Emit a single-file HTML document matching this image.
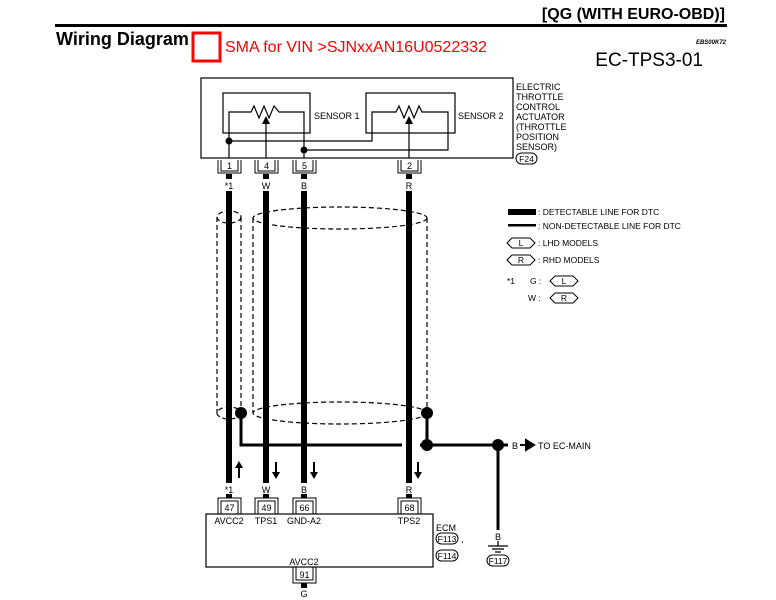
<!DOCTYPE html>
<html><head><meta charset="utf-8"><style>
html,body{margin:0;padding:0;background:#fff;}
svg{display:block;font-family:"Liberation Sans",Arial,sans-serif;}
</style></head><body>
<svg width="776" height="600" viewBox="0 0 776 600" xmlns="http://www.w3.org/2000/svg">
<text x="292" y="-1" font-size="15" font-weight="bold">DTC P1227 TP SENSOR</text>
<text x="725" y="19" font-size="16" font-weight="bold" text-anchor="end">[QG (WITH EURO-OBD)]</text>
<rect x="55" y="24" width="672" height="3" fill="#000"/>
<text x="56" y="45" font-size="18" font-weight="bold">Wiring Diagram</text>
<rect x="193" y="33" width="27" height="28" fill="none" stroke="#f00" stroke-width="3"/>
<text x="225" y="52" font-size="16" fill="#f00">SMA for VIN &gt;SJNxxAN16U0522332</text>
<text x="726" y="44" font-size="6" font-style="italic" font-weight="bold" text-anchor="end">EBS00K72</text>
<text x="703" y="66" font-size="19" text-anchor="end">EC-TPS3-01</text>

<g fill="none" stroke="#000" stroke-width="1.2">
<rect x="201" y="78" width="312" height="80"/>
<rect x="223" y="93" width="87" height="40"/>
<rect x="366" y="93" width="89" height="40"/>
<polyline points="229,158 229,112 251,112 254,106 259,118 264,106 269,118 274,106 279,112 304,112 304,158"/>
<polyline points="229,141 372,141 372,112 396,112 399,106 404,118 409,106 414,118 419,106 422,112 448,112 448,150 304,150"/>
<line x1="266" y1="158" x2="266" y2="122"/>
<line x1="409" y1="158" x2="409" y2="122"/>
</g>
<polygon points="266,116 262,124 270,124" fill="#000"/>
<polygon points="409,116 405,124 413,124" fill="#000"/>
<circle cx="229" cy="141" r="3.5" fill="#000"/>
<circle cx="304" cy="150" r="3.5" fill="#000"/>
<g font-size="9">
<text x="314" y="119">SENSOR 1</text>
<text x="458" y="119">SENSOR 2</text>
<text x="516" y="90">ELECTRIC</text>
<text x="516" y="100">THROTTLE</text>
<text x="516" y="110">CONTROL</text>
<text x="516" y="120">ACTUATOR</text>
<text x="516" y="130">(THROTTLE</text>
<text x="516" y="140">POSITION</text>
<text x="516" y="150">SENSOR)</text>
</g>
<rect x="516" y="153" width="21" height="11" rx="5.5" fill="none" stroke="#000"/>
<text x="526.5" y="162" font-size="8.5" text-anchor="middle">F24</text>

<g fill="none" stroke="#000" stroke-width="1">
<path d="M218,160 V173 H241 V160 M221,160 V171 H238 V160"/>
<path d="M255,160 V173 H278 V160 M258,160 V171 H275 V160"/>
<path d="M293,160 V173 H316 V160 M296,160 V171 H313 V160"/>
<path d="M398,160 V173 H421 V160 M401,160 V171 H418 V160"/>
</g>
<g font-size="9" text-anchor="middle">
<text x="229.5" y="169">1</text><text x="266.5" y="169">4</text><text x="304.5" y="169">5</text><text x="409.5" y="169">2</text>
<text x="229" y="189">*1</text><text x="266" y="189">W</text><text x="304" y="189">B</text><text x="409" y="189">R</text>
</g>

<g fill="#000">
<rect x="226" y="174" width="6" height="5"/><rect x="263" y="174" width="6" height="5"/><rect x="301" y="174" width="6" height="5"/><rect x="406" y="174" width="6" height="5"/>
<rect x="226" y="191" width="6" height="292"/><rect x="263" y="191" width="6" height="292"/><rect x="301" y="191" width="6" height="292"/><rect x="406" y="191" width="6" height="292"/>
<rect x="226" y="494" width="6" height="4"/><rect x="263" y="494" width="6" height="4"/><rect x="301" y="494" width="6" height="4"/><rect x="406" y="494" width="6" height="4"/>
</g>

<g fill="none" stroke="#000" stroke-width="1.2" stroke-dasharray="5,3">
<ellipse cx="229" cy="217" rx="12" ry="6"/>
<ellipse cx="229" cy="413" rx="12" ry="6"/>
<line x1="217" y1="217" x2="217" y2="413"/><line x1="241" y1="217" x2="241" y2="413"/>
<ellipse cx="340" cy="218" rx="87" ry="11"/>
<ellipse cx="340" cy="413" rx="87" ry="11"/>
<line x1="253" y1="218" x2="253" y2="413"/><line x1="427" y1="218" x2="427" y2="413"/>
</g>
<circle cx="241" cy="413" r="6" fill="#000"/>
<circle cx="427" cy="413" r="6" fill="#000"/>
<g fill="none" stroke="#000" stroke-width="3">
<polyline points="241,413 241,445 498,445"/>
<line x1="427" y1="413" x2="427" y2="445"/>
<line x1="498" y1="445" x2="508" y2="445"/>
<line x1="498" y1="445" x2="498" y2="530"/>
</g>
<rect x="402" y="441" width="18" height="8" fill="#fff"/>
<rect x="406" y="441" width="6" height="8" fill="#000"/>
<circle cx="427" cy="445" r="6" fill="#000"/>
<circle cx="498" cy="445" r="6" fill="#000"/>
<text x="512" y="449" font-size="9">B</text>
<polygon points="520,445 526,445 526,440 534,445 526,450 526,445" fill="#000" stroke="#000" stroke-width="2"/>
<text x="538" y="449" font-size="9">TO EC-MAIN</text>

<g stroke="#000" stroke-width="2" fill="#000">
<line x1="239" y1="478" x2="239" y2="466"/><polygon points="239,461 235,468 243,468" stroke="none"/>
<line x1="276" y1="462" x2="276" y2="474"/><polygon points="276,479 272,472 280,472" stroke="none"/>
<line x1="314" y1="462" x2="314" y2="474"/><polygon points="314,479 310,472 318,472" stroke="none"/>
<line x1="418" y1="462" x2="418" y2="474"/><polygon points="418,479 414,472 422,472" stroke="none"/>
</g>
<g font-size="9" text-anchor="middle">
<text x="229" y="493">*1</text><text x="266" y="493">W</text><text x="304" y="493">B</text><text x="409" y="493">R</text>
</g>
<g fill="none" stroke="#000" stroke-width="1">
<path d="M218,514 V498 H241 V514 M221,514 V501 H238 V514"/>
<path d="M255,514 V498 H278 V514 M258,514 V501 H275 V514"/>
<path d="M293,514 V498 H316 V514 M296,514 V501 H313 V514"/>
<path d="M398,514 V498 H421 V514 M401,514 V501 H418 V514"/>
<rect x="206" y="514" width="227" height="53" stroke-width="1.2"/>
<path d="M293,567 V583 H316 V567 M296,567 V580 H313 V567"/>
</g>
<g font-size="9" text-anchor="middle">
<text x="229.5" y="511">47</text><text x="266.5" y="511">49</text><text x="304.5" y="511">66</text><text x="409.5" y="511">68</text>
<text x="229" y="524">AVCC2</text><text x="266" y="524">TPS1</text><text x="304" y="524">GND-A2</text><text x="409" y="524">TPS2</text>
<text x="304" y="565">AVCC2</text><text x="304.5" y="578">91</text>
<text x="304" y="597">G</text>
</g>
<rect x="301" y="583" width="6" height="5" fill="#000"/>
<text x="436" y="531" font-size="9">ECM</text>
<rect x="436" y="533" width="22" height="11" rx="5.5" fill="none" stroke="#000"/>
<text x="447" y="542" font-size="8.5" text-anchor="middle">F113</text>
<text x="461" y="542" font-size="9">,</text>
<rect x="436" y="550" width="22" height="11" rx="5.5" fill="none" stroke="#000"/>
<text x="447" y="559" font-size="8.5" text-anchor="middle">F114</text>
<text x="498" y="540" font-size="9" text-anchor="middle">B</text>
<g stroke="#000" stroke-width="1.3">
<line x1="498" y1="541" x2="498" y2="546"/>
<line x1="488" y1="546" x2="508" y2="546"/>
<line x1="492" y1="549" x2="504" y2="549"/>
<line x1="495" y1="552" x2="501" y2="552"/>
</g>
<rect x="487" y="555" width="22" height="11" rx="5.5" fill="none" stroke="#000"/>
<text x="498" y="564" font-size="8.5" text-anchor="middle">F117</text>

<rect x="508" y="209" width="28" height="6" fill="#000"/>
<text x="538" y="215" font-size="8.5">: DETECTABLE LINE FOR DTC</text>
<rect x="508" y="224" width="28" height="2.5" fill="#000"/>
<text x="538" y="229" font-size="8.5">: NON-DETECTABLE LINE FOR DTC</text>
<g fill="none" stroke="#000" stroke-width="1">
<polygon points="507,243 512,238 530,238 535,243 530,248 512,248"/>
<polygon points="507,260 512,255 530,255 535,260 530,265 512,265"/>
<polygon points="550,281 555,276 573,276 578,281 573,286 555,286"/>
<polygon points="550,298 555,293 573,293 578,298 573,303 555,303"/>
</g>
<g font-size="8.5">
<text x="521" y="246" text-anchor="middle">L</text>
<text x="538" y="246">: LHD MODELS</text>
<text x="521" y="263" text-anchor="middle">R</text>
<text x="538" y="263">: RHD MODELS</text>
<text x="507" y="284">*1</text>
<text x="530" y="284">G :</text>
<text x="564" y="284" text-anchor="middle">L</text>
<text x="528" y="301">W :</text>
<text x="564" y="301" text-anchor="middle">R</text>
</g>
</svg>
</body></html>
